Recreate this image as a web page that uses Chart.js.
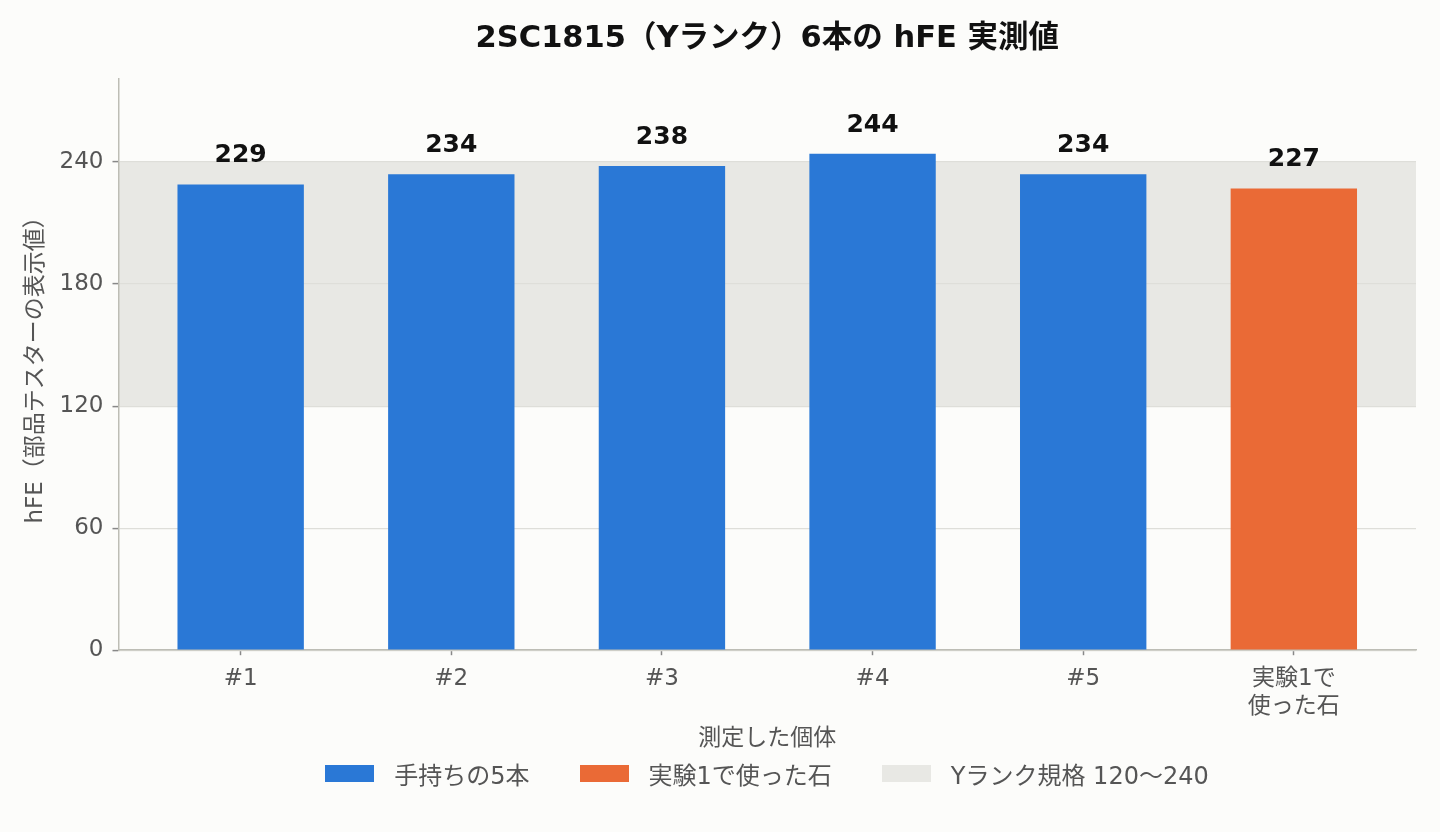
<!DOCTYPE html>
<html lang="ja">
<head>
<meta charset="utf-8">
<script src="https://cdn.jsdelivr.net/npm/chart.js@4/dist/chart.umd.min.js"></script>
<style>
  html, body { margin: 0; padding: 0; background: #fcfcfa; }
  #wrap { position: relative; width: 1440px; height: 832px; }
  #legend {
    position: absolute; left: 118px; width: 1298px; top: 759px; height: 28px;
    display: flex; justify-content: center; align-items: center; gap: 50px;
    font-family: 'DejaVu Sans', 'Noto Sans CJK JP', sans-serif; font-size: 24px; color: #555;
  }
  #legend .item { display: flex; align-items: center; gap: 20px; white-space: nowrap; }
  #legend .box { width: 49px; height: 17px; display: inline-block; }
</style>
</head>
<body>
<div id="wrap">
  <canvas id="hfeChart"></canvas>
  <div id="legend"></div>
</div>
<script>
// data
const labels = ['#1', '#2', '#3', '#4', '#5', ['実験1で', '使った石']];
const ownedValues = [229, 234, 238, 244, 234, null];
const usedValues = [null, null, null, null, null, 227];
const rankMin = 120;
const rankMax = 240;
const yTicks = [0, 60, 120, 180, 240];

const FONT = "'DejaVu Sans', 'Noto Sans CJK JP', sans-serif";
const BLUE = '#2a78d6';
const ORANGE = '#ea6a36';
const BAND = '#e8e8e4';
const TEXT = '#555';

const toPoints = arr => arr.map((v, i) => ({ x: i, y: v })).filter(p => p.y != null);

// Y rank band, drawn under the grid and bars
const bandPlugin = {
    id: 'band',
    beforeDraw(chart) {
        const { ctx, chartArea, scales } = chart;
        const top = scales.y.getPixelForValue(rankMax);
        const bottom = scales.y.getPixelForValue(rankMin);
        ctx.save();
        ctx.fillStyle = BAND;
        ctx.fillRect(chartArea.left, top, chartArea.right - chartArea.left, bottom - top);
        ctx.restore();
    }
};

// value labels above bars
const valueLabels = {
    id: 'valueLabels',
    afterDatasetsDraw(chart) {
        const { ctx } = chart;
        ctx.save();
        ctx.font = "bold 25px " + FONT;
        ctx.fillStyle = '#111';
        ctx.textAlign = 'center';
        ctx.textBaseline = 'alphabetic';
        chart.data.datasets.forEach((ds, i) => {
            const meta = chart.getDatasetMeta(i);
            meta.data.forEach((bar, j) => {
                ctx.fillText(ds.data[j].y, bar.x, bar.y - 22);
            });
        });
        ctx.restore();
    }
};

const chart = new Chart(document.getElementById('hfeChart'), {
    type: 'bar',
    data: {
        datasets: [
            {
                label: '手持ちの5本',
                data: toPoints(ownedValues),
                backgroundColor: BLUE,
                grouped: false,
                barPercentage: 0.6,
                categoryPercentage: 1
            },
            {
                label: '実験1で使った石',
                data: toPoints(usedValues),
                backgroundColor: ORANGE,
                grouped: false,
                barPercentage: 0.6,
                categoryPercentage: 1
            }
        ]
    },
    options: {
        responsive: true,
        maintainAspectRatio: false,
        animation: false,
        layout: { padding: { left: 22, right: 24, top: 0, bottom: 79 } },
        scales: {
            x: {
                type: 'linear',
                min: -0.58,
                max: 5.58,
                offset: false,
                afterBuildTicks(scale) {
                    scale.ticks = labels.map((l, i) => ({ value: i }));
                },
                grid: { offset: false, drawOnChartArea: false, tickLength: 5, tickColor: '#888', tickWidth: 1.5 },
                border: { color: '#bdbdb5', width: 1.5 },
                ticks: {
                    color: TEXT,
                    font: { family: FONT, size: 23 },
                    padding: 10,
                    maxRotation: 0,
                    autoSkip: false,
                    callback: v => labels[v]
                },
                title: {
                    display: true,
                    text: '測定した個体',
                    color: TEXT,
                    font: { family: FONT, size: 23 },
                    padding: { top: -5, bottom: 0 }
                }
            },
            y: {
                min: 0,
                max: 281,
                afterBuildTicks(scale) {
                    scale.ticks = yTicks.map(v => ({ value: v }));
                },
                ticks: { color: TEXT, font: { family: FONT, size: 23 }, padding: 9 },
                grid: { color: '#deded9', lineWidth: 1.2, tickLength: 6, tickColor: '#888', tickWidth: 1.5 },
                border: { color: '#bdbdb5', width: 1.5 },
                title: {
                    display: true,
                    text: 'hFE（部品テスターの表示値）',
                    color: TEXT,
                    font: { family: FONT, size: 23 },
                    padding: { top: 0, bottom: 1 }
                }
            }
        },
        plugins: {
            title: {
                display: true,
                fullSize: false,
                text: '2SC1815（Yランク）6本の hFE 実測値',
                color: '#111',
                font: { family: FONT, size: 30.5, weight: 'bold' },
                padding: { top: 21, bottom: 21 }
            },
            legend: { display: false },
            tooltip: { enabled: false }
        }
    },
    plugins: [bandPlugin, valueLabels]
});

// HTML legend below the chart
const legendItems = chart.data.datasets.map(ds => ({ text: ds.label, color: ds.backgroundColor }));
legendItems.push({ text: 'Yランク規格 ' + rankMin + '〜' + rankMax, color: BAND });
document.getElementById('legend').innerHTML = legendItems.map(it => `
    <div class="item"><span class="box" style="background:${it.color}"></span><span>${it.text}</span></div>
`).join('');
</script>
</body>
</html>
